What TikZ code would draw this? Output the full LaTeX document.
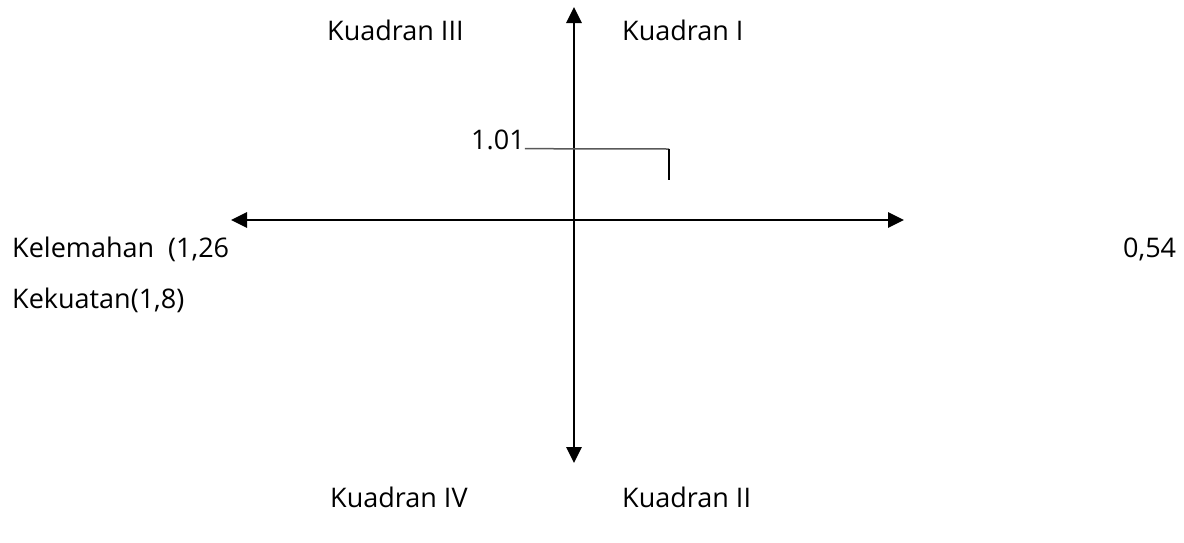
\documentclass[tikz,border=0pt]{standalone}
\usepackage{fontspec}
\setmainfont{Open Sans}
\usetikzlibrary{arrows.meta, positioning}

\begin{document}
\begin{tikzpicture}[
x=1pt, y=-1pt,
label/.style={inner sep=0pt, anchor=west, font=\fontsize{27}{32}\selectfont},
axis/.style={{Triangle[length=16pt, width=15pt]}-{Triangle[length=16pt, width=15pt]}, line width=2.8pt},
mark line/.style={draw=black!65, line width=1.5pt}
]
\useasboundingbox (0,0) rectangle (1184,542);

% axes
\coordinate (left) at (231,220);
\coordinate (right) at (904,220);
\coordinate (top) at (574,7);
\coordinate (bottom) at (574,463);
\draw[axis] (left) -- (right);
\draw[axis] (top) -- (bottom);

% quadrant labels
\node[label] (q3) at (327,30) {Kuadran III};
\node[label] (q1) at (622,30) {Kuadran I};
\node[label] (q4) at (330,497) {Kuadran IV};
\node[label] (q2) at (622,497) {Kuadran II};

% side values
\node[label] (weak) at (12,249) {Kelemahan\ \ (1,26};
\node[label] (strong) at (12,300) {Kekuatan(1,8)};
\node[label] (opp) at (1123,249) {0,54};

% point
\node[label] (val) at (471,140) {1.01};
\coordinate (corner) at (669,149);
\coordinate (tip) at (669,180);
\draw[mark line] (val.south east) ++(0,-1.5) -- (corner);
\draw[line width=2pt] (corner) -- (tip);
\end{tikzpicture}
\end{document}
